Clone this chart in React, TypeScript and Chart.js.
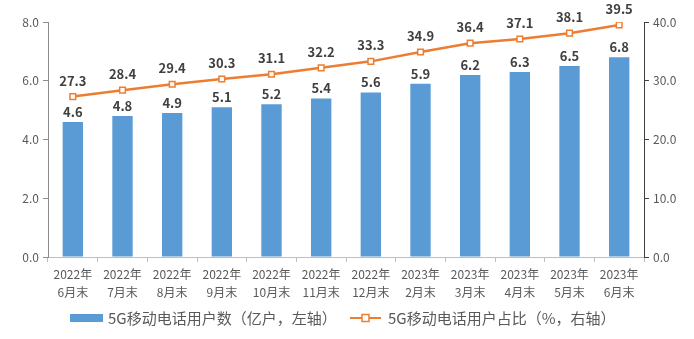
import React, { useEffect, useRef } from "react";
import { Chart, registerables } from "chart.js";
Chart.register(...registerables);

const categories: string[][] = [
  ["2022年", "6月末"], ["2022年", "7月末"], ["2022年", "8月末"], ["2022年", "9月末"],
  ["2022年", "10月末"], ["2022年", "11月末"], ["2022年", "12月末"], ["2023年", "2月末"],
  ["2023年", "3月末"], ["2023年", "4月末"], ["2023年", "5月末"], ["2023年", "6月末"],
];
const users: number[] = [4.6, 4.8, 4.9, 5.1, 5.2, 5.4, 5.6, 5.9, 6.2, 6.3, 6.5, 6.8];
const share: number[] = [27.3, 28.4, 29.4, 30.3, 31.1, 32.2, 33.3, 34.9, 36.4, 37.1, 38.1, 39.5];
const barLabel = "5G移动电话用户数（亿户，左轴）";
const lineLabel = "5G移动电话用户占比（%，右轴）";

const BLUE = "#5b9bd5";
const ORANGE = "#ed7d31";
const FONT = "'Noto Sans CJK SC', 'Noto Sans', sans-serif";

const labelsPlugin = {
  id: "valueLabels",
  afterDatasetsDraw(chart: any) {
    const ctx = chart.ctx;
    ctx.save();
    ctx.font = `bold 13px ${FONT}`;
    ctx.fillStyle = "#404040";
    ctx.textAlign = "center";
    ctx.textBaseline = "middle";
    chart.data.datasets.forEach((ds: any, i: number) => {
      const meta = chart.getDatasetMeta(i);
      meta.data.forEach((el: any, j: number) => {
        const v = ds.data[j];
        const off = ds.type === "line" ? 16 : 10;
        ctx.fillText(v.toFixed(1), el.x, el.y - off);
      });
    });
    ctx.restore();
  },
};

const legendPlugin = {
  id: "customLegend",
  afterDraw(chart: any) {
    const ctx = chart.ctx;
    ctx.save();
    const y = 318;
    ctx.fillStyle = BLUE;
    ctx.fillRect(70, y - 4, 33, 8);
    ctx.font = `15px ${FONT}`;
    ctx.fillStyle = "#595959";
    ctx.textBaseline = "middle";
    ctx.textAlign = "left";
    ctx.fillText(barLabel, 108, y);
    ctx.strokeStyle = ORANGE;
    ctx.lineWidth = 2;
    ctx.beginPath();
    ctx.moveTo(350, y);
    ctx.lineTo(381, y);
    ctx.stroke();
    ctx.fillStyle = "#ffffff";
    ctx.fillRect(362, y - 3.5, 7, 7);
    ctx.lineWidth = 1.5;
    ctx.strokeRect(362, y - 3.5, 7, 7);
    ctx.fillStyle = "#595959";
    ctx.fillText(lineLabel, 388, y);
    ctx.restore();
  },
};

export default function App() {
  const ref = useRef<HTMLCanvasElement>(null);
  useEffect(() => {
    if (!ref.current) return;
    const chart = new Chart(ref.current, {
      type: "bar",
      data: {
        labels: categories,
        datasets: [
          {
            type: "line",
            label: lineLabel,
            data: share,
            yAxisID: "y1",
            borderColor: ORANGE,
            borderWidth: 2.5,
            pointStyle: "rect",
            pointRadius: 4,
            pointBackgroundColor: "#ffffff",
            pointBorderColor: ORANGE,
            pointBorderWidth: 1.5,
            order: 0,
          } as any,
          {
            type: "bar",
            label: barLabel,
            data: users,
            yAxisID: "y",
            backgroundColor: BLUE,
            categoryPercentage: 1,
            barPercentage: 0.41,
            order: 1,
          },
        ],
      },
      options: {
        animation: false,
        responsive: false,
        layout: { padding: { top: 22, bottom: 40, left: 0, right: 0 } },
        plugins: { legend: { display: false }, tooltip: { enabled: false } },
        scales: {
          x: {
            grid: { display: true, drawOnChartArea: false, drawTicks: true, tickLength: 5, color: "#bfbfbf", offset: true },
            border: { color: "#bfbfbf" },
            ticks: { color: "#595959", font: { family: FONT, size: 12, lineHeight: 1.5 }, maxRotation: 0, autoSkip: false, padding: 3 },
            afterFit: (s: any) => { s.height = 42; },
          },
          y: {
            position: "left",
            min: 0,
            max: 8,
            ticks: { stepSize: 2, color: "#595959", font: { family: FONT, size: 12 }, callback: (v: any) => Number(v).toFixed(1), padding: 4 },
            grid: { drawOnChartArea: false, drawTicks: true, tickLength: 5, color: "#8c8c8c" },
            border: { color: "#8c8c8c" },
            afterFit: (s: any) => { s.width = 48; },
          },
          y1: {
            position: "right",
            min: 0,
            max: 40,
            ticks: { stepSize: 10, color: "#595959", font: { family: FONT, size: 12 }, callback: (v: any) => Number(v).toFixed(1), padding: 4 },
            grid: { drawOnChartArea: false, drawTicks: true, tickLength: 5, color: "#404040" },
            border: { color: "#404040" },
            afterFit: (s: any) => { s.width = 50; },
          },
        },
      },
      plugins: [labelsPlugin, legendPlugin],
    });
    return () => chart.destroy();
  }, []);
  return (
    <div style={{ position: "fixed", left: 0, top: 0, width: 694, height: 339, background: "#fff" }}>
      <canvas ref={ref} width={694} height={339} />
    </div>
  );
}
